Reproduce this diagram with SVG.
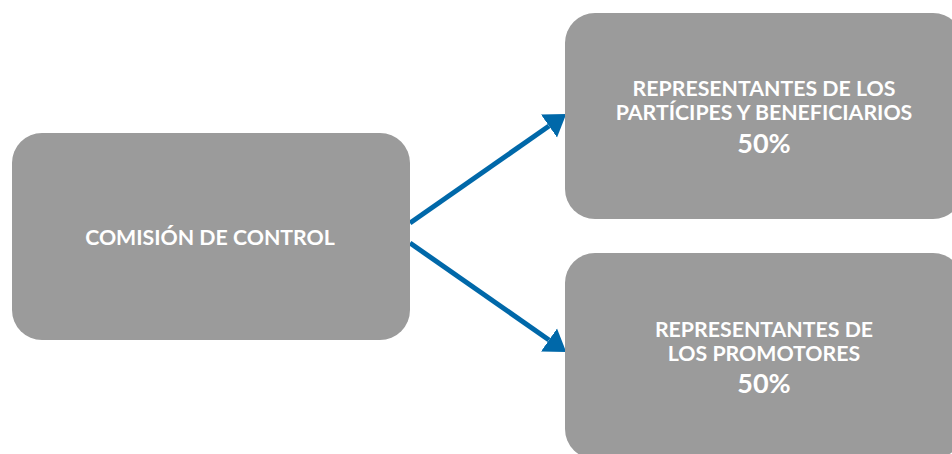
<svg xmlns="http://www.w3.org/2000/svg" width="952" height="454" viewBox="0 0 952 454">
<defs>
<style>
.box{fill:#9b9b9b}
.t{font-family:Lato,"Open Sans","Liberation Sans",sans-serif;font-weight:700;fill:#ffffff;text-anchor:middle}
.s{font-size:21.3px}
.b{font-size:27px}
.c{stroke:#0068a9;stroke-width:5;fill:none}
</style>
<marker id="ah" markerUnits="userSpaceOnUse" markerWidth="22" markerHeight="30" refX="0" refY="14" orient="auto" viewBox="0 0 22 28">
<path d="M0,0 L21,14 L0,28 Z" fill="#0068a9"/>
</marker>
</defs>
<rect width="952" height="454" fill="#ffffff"/>
<g id="connectors">
<line class="c" x1="410" y1="223" x2="549" y2="126" marker-end="url(#ah)"/>
<line class="c" x1="410" y1="243" x2="549" y2="340" marker-end="url(#ah)"/>
</g>
<g id="node-comision">
<rect class="box" x="12" y="133" width="398" height="207" rx="30" ry="30"/>
<text class="t s" x="210" y="245">COMISIÓN DE CONTROL</text>
</g>
<g id="node-participes">
<rect class="box" x="565" y="13" width="398" height="206" rx="30" ry="30"/>
<text class="t s" x="764" y="96">REPRESENTANTES DE LOS</text>
<text class="t s" x="764" y="120">PARTÍCIPES Y BENEFICIARIOS</text>
<text class="t b" x="764" y="153">50%</text>
</g>
<g id="node-promotores">
<rect class="box" x="565" y="253" width="398" height="206" rx="30" ry="30"/>
<text class="t s" x="764" y="337">REPRESENTANTES DE</text>
<text class="t s" x="764" y="361">LOS PROMOTORES</text>
<text class="t b" x="764" y="393">50%</text>
</g>
</svg>
